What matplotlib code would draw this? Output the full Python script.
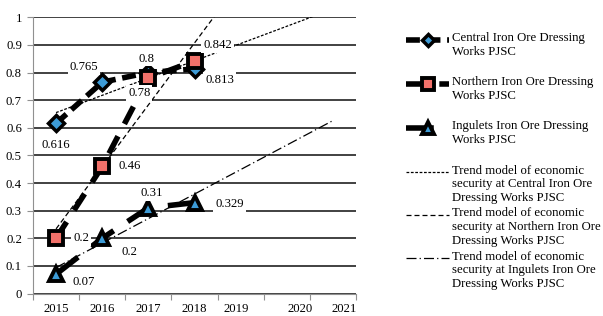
import numpy as np
import matplotlib
matplotlib.use("Agg")
from matplotlib import pyplot as plt
from matplotlib import ticker

plt.rcParams['font.family'] = 'serif'
plt.rcParams['font.serif'] = ['Liberation Serif', 'DejaVu Serif']
plt.rcParams['font.size'] = 9.2

years = [2015, 2016, 2017, 2018]
central = [0.616, 0.765, 0.8, 0.813]
northern = [0.2, 0.46, 0.78, 0.842]
ingulets = [0.07, 0.2, 0.31, 0.329]

# trend lines (start 2015, end 2021)
trend_years = [2015, 2021]
central_trend = [0.655, 1.03]
northern_trend = [0.234, 1.58]
ingulets_trend = [0.094, 0.626]

tick_labels = ['2015', '2016', '2017', '2018', '2019', '2020', '2021']

names = ["Central Iron Ore Dressing\nWorks PJSC",
         "Northern Iron Ore Dressing\nWorks PJSC",
         "Ingulets Iron Ore Dressing\nWorks PJSC",
         "Trend model of economic\nsecurity at Central Iron Ore\nDressing Works PJSC",
         "Trend model of economic\nsecurity at Northern Iron Ore\nDressing Works PJSC",
         "Trend model of economic\nsecurity at Ingulets Iron Ore\nDressing Works PJSC"]

BLUE = '#3d9bd6'
SALMON = '#f2716a'

W, H = 603, 316
fig = plt.figure(figsize=(W / 100, H / 100), dpi=100)
ax = fig.add_axes([33 / W, 1 - 293.5 / H, (356 - 33) / W, (293.5 - 17.3) / H])

styles = [
    dict(color='black', lw=4, dashes=(2.5, 1.2), marker='D', ms=8, mfc=BLUE, mec='black', mew=2.5),
    dict(color='black', lw=4, dashes=(3.5, 2.5), marker='s', ms=10, mfc=SALMON, mec='black', mew=2.8),
    dict(color='black', lw=4, dashes=(5, 3), marker='^', ms=10, mfc=BLUE, mec='black', mew=2.8),
]
trend_styles = [
    dict(color='black', lw=0.9, dashes=(2.2, 1.3)),
    dict(color='black', lw=0.9, dashes=(4, 2.4)),
    dict(color='black', lw=0.9, dashes=(8, 2.5, 1, 2.5)),
]

ax.plot(trend_years, central_trend, zorder=3, **trend_styles[0])
ax.plot(trend_years, northern_trend, zorder=3, **trend_styles[1])
ax.plot(trend_years, ingulets_trend, zorder=3, **trend_styles[2])

ax.plot(years, central, zorder=4, **styles[0])
ax.plot(years, northern, zorder=4, **styles[1])
ax.plot(years, ingulets, zorder=4, **styles[2])

# data labels (offsets in pixels)
labels = [
    (2015, 0.616, '0.616', (0, -22)),
    (2016, 0.765, '0.765', (-18, 15)),
    (2017, 0.8, '0.8', (-2, 14)),
    (2018, 0.813, '0.813', (25, -11)),
    (2015, 0.2, '0.2', (25, 0)),
    (2016, 0.46, '0.46', (27, 0)),
    (2017, 0.78, '0.78', (-9, -15)),
    (2018, 0.842, '0.842', (23, 16)),
    (2015, 0.07, '0.07', (28, -8)),
    (2016, 0.2, '0.2', (27, -14)),
    (2017, 0.31, '0.31', (3, 15)),
    (2018, 0.329, '0.329', (35, -1)),
]
for x, y, s, off in labels:
    ax.annotate(s, (x, y), xytext=off, textcoords='offset pixels', ha='center', va='center',
                zorder=6, bbox=dict(boxstyle='square,pad=0.15', fc='white', ec='none'))

ax.set_xlim(2014.5, 2021.5)
ax.set_ylim(0, 1)
ax.set_yticks(np.arange(0, 1.01, 0.1))
ax.yaxis.set_major_formatter(ticker.FuncFormatter(lambda v, p: '%g' % round(v, 1)))
ax.yaxis.grid(True, color='#333333', lw=1.3)
ax.set_axisbelow(True)

ax.set_xticks(np.arange(2014.5, 2021.6, 1.0))
ax.set_xticklabels([])
ax.set_xticks([2015, 2016, 2017, 2018, 2018.9, 2020.28, 2021.25], minor=True)
ax.set_xticklabels(tick_labels, minor=True)
ax.tick_params(axis='x', which='major', length=4, color='#909090', direction='out')
ax.tick_params(axis='x', which='minor', length=0, pad=7)
ax.tick_params(axis='y', length=4, color='#909090', pad=4)

for side in ['top', 'right']:
    ax.spines[side].set_visible(False)
for side in ['left', 'bottom']:
    ax.spines[side].set_color('#909090')
    ax.spines[side].set_linewidth(0.8)

# legend drawn in pixel coords
lax = fig.add_axes([0, 0, 1, 1])
lax.set_xlim(0, W)
lax.set_ylim(H, 0)
lax.axis('off')
entry_y = [40, 84, 128, 172, 215, 258]
for i, (yy, name) in enumerate(zip(entry_y, names)):
    if i < 3:
        st = dict(styles[i])
        st['ms'] = st['ms'] * 0.8
        lax.plot([406, 428, 449], [yy, yy, yy], markevery=[1], **st)
    else:
        lax.plot([406, 449], [yy, yy], **trend_styles[i - 3])
    lax.text(452, yy - 7.5, name, ha='left', va='top', linespacing=1.2)

fig.savefig('out.png', dpi=100)
